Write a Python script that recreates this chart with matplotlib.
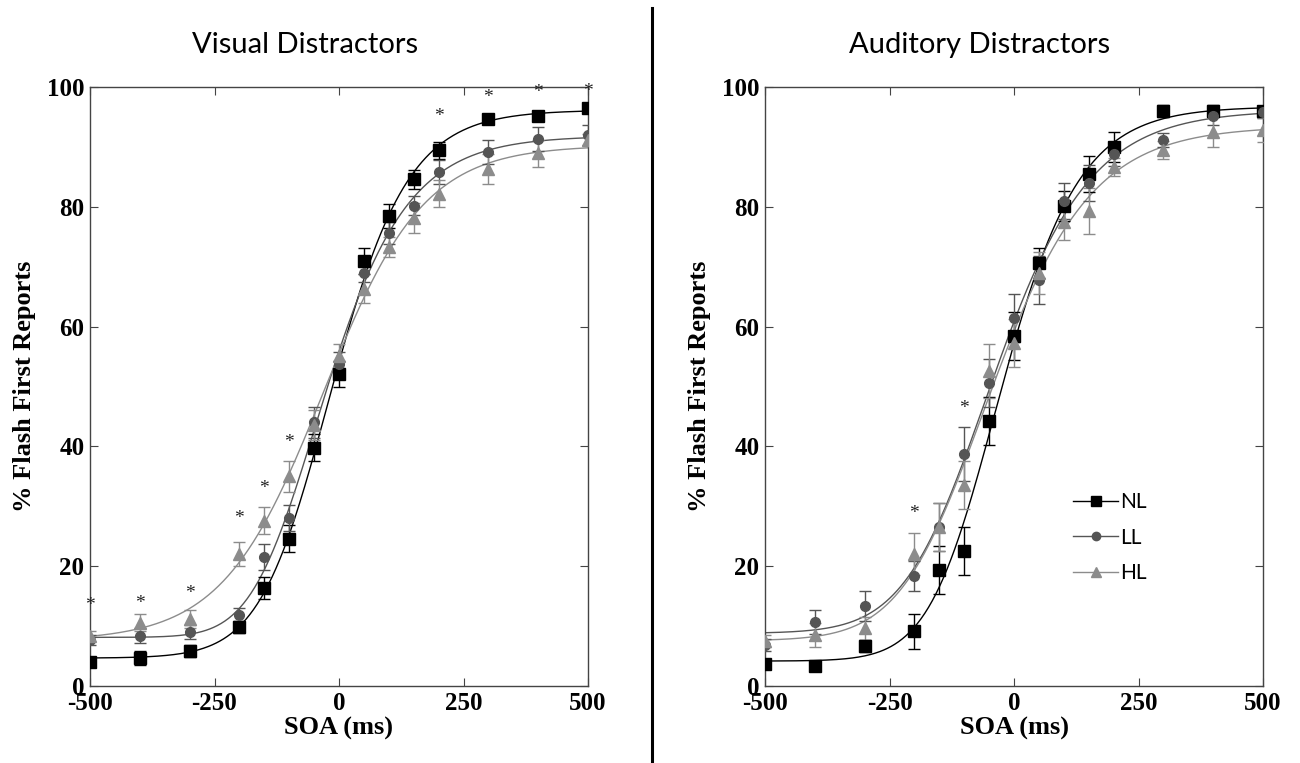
import matplotlib
matplotlib.use("Agg")
import matplotlib.pyplot as plt
import numpy as np

# SOA values (ms)
soa = [-500, -400, -300, -200, -150, -100, -50, 0, 50, 100, 150, 200, 300, 400, 500]

# Visual distractors: % flash first reports and SEM
vis_nl = [4.0, 4.7, 5.9, 9.9, 16.4, 24.6, 39.8, 52.1, 71.0, 78.5, 84.6, 89.4, 94.6, 95.2, 96.5]
vis_ll = [7.7, 8.4, 9.0, 11.9, 21.5, 28.1, 44.0, 53.8, 69.0, 75.6, 80.2, 85.8, 89.2, 91.3, 92.0]
vis_hl = [8.3, 10.6, 11.2, 22.1, 27.6, 35.0, 43.5, 55.1, 66.3, 73.3, 78.2, 82.2, 86.3, 88.9, 91.1]
vis_nl_err = [0.8, 1.2, 1.0, 1.0, 1.8, 2.2, 2.2, 2.2, 2.2, 2.0, 1.6, 1.4, 0.8, 0.8, 0.6]
vis_ll_err = [0.8, 1.2, 1.2, 1.2, 2.2, 2.2, 2.6, 2.0, 1.5, 1.8, 1.6, 2.0, 2.0, 2.0, 1.6]
vis_hl_err = [0.8, 1.5, 1.5, 2.0, 2.2, 2.6, 2.5, 2.0, 2.4, 1.7, 2.5, 2.2, 2.5, 2.2, 1.0]
vis_star_x = [-500, -400, -300, -200, -150, -100, 200, 300, 400, 500]
vis_star_y = [13.5, 13.7, 15.4, 28.0, 33.0, 40.7, 95.0, 98.2, 99.0, 99.3]

# Auditory distractors
aud_nl = [3.6, 3.4, 6.7, 9.1, 19.3, 22.5, 44.3, 58.4, 70.6, 80.1, 85.5, 90.0, 96.0, 96.0, 96.0]
aud_ll = [6.9, 10.7, 13.4, 18.3, 26.6, 38.7, 50.6, 61.4, 67.8, 81.0, 84.0, 88.8, 91.2, 95.2, 95.9]
aud_hl = [7.5, 8.5, 9.6, 22.1, 26.6, 33.6, 52.6, 57.2, 69.0, 77.4, 79.3, 86.7, 89.5, 92.5, 92.9]
aud_nl_err = [0.8, 0.8, 1.0, 3.0, 4.0, 4.0, 4.0, 4.0, 2.5, 2.5, 3.0, 2.5, 1.0, 1.0, 0.6]
aud_ll_err = [1.0, 2.0, 2.5, 2.5, 4.0, 4.5, 4.0, 4.0, 4.0, 3.0, 3.0, 2.0, 1.2, 1.5, 1.0]
aud_hl_err = [1.0, 2.0, 2.0, 3.5, 4.0, 4.0, 4.5, 4.0, 3.5, 3.0, 3.8, 1.5, 1.5, 2.5, 2.0]
aud_star_x = [-200, -100]
aud_star_y = [28.8, 46.4]

labels = ["NL", "LL", "HL"]
colors = ["#000000", "#555555", "#8c8c8c"]
markers = ["s", "o", "^"]
msizes = [8, 7, 8]


def shape(x, mu, s, nu):
    # generalised (asymmetric) logistic, 0..1
    return (1.0 + np.exp(-(x - mu) / s)) ** (-nu)


def fit_curve(x, y):
    # grid over mu / s / nu, closed-form least squares for the two asymptotes
    x = np.asarray(x, float)
    y = np.asarray(y, float)
    mu = np.arange(-200, 121, 3.0)[:, None, None, None]
    s = np.arange(20, 200, 3.0)[None, :, None, None]
    nu = np.array([1.0, 1.5, 2.0, 2.5, 3.0, 4.0])[None, None, :, None]
    g = shape(x[None, None, None, :], mu, s, nu)
    gm = g.mean(-1, keepdims=True)
    b = ((g - gm) * (y - y.mean())).sum(-1, keepdims=True) / ((g - gm) ** 2).sum(-1, keepdims=True)
    a = y.mean() - b * gm
    err = ((a + b * g - y) ** 2).sum(-1)
    i, j, k = np.unravel_index(np.argmin(err), err.shape)
    lo = a[i, j, k, 0]
    hi = lo + b[i, j, k, 0]
    return mu[i, 0, 0, 0], s[0, j, 0, 0], nu[0, 0, k, 0], lo, hi


plt.rcParams['font.family'] = ['Liberation Serif', 'DejaVu Serif']
plt.rcParams['axes.unicode_minus'] = False
W, H = 1300, 763
fig = plt.figure(figsize=(W / 100, H / 100), dpi=100)


def panel(left, series, errs, star_x, star_y, title, legend=False):
    ax = fig.add_axes([left / W, 1 - 686 / H, 498 / W, 599 / H])
    xx = np.linspace(-500, 500, 400)
    for i in range(3):
        mu, s, nu, lo, hi = fit_curve(soa, series[i])
        ax.plot(xx, lo + (hi - lo) * shape(xx, mu, s, nu), color=colors[i], lw=1.0, zorder=2)
        ax.errorbar(soa, series[i], yerr=errs[i], fmt=markers[i], color=colors[i],
                    ms=msizes[i], capsize=4, elinewidth=1, capthick=1, zorder=3)
        if legend:
            ax.plot([], [], color=colors[i], marker=markers[i], ms=msizes[i] - 1,
                    lw=1.0, label=labels[i])
    for sx, sy in zip(star_x, star_y):
        ax.text(sx, sy, "*", ha="center", va="center", fontsize=14, color="#222222")
    ax.set_xlim(-500, 500)
    ax.set_ylim(0, 100)
    ax.set_xticks([-500, -250, 0, 250, 500])
    ax.set_yticks([0, 20, 40, 60, 80, 100])
    ax.tick_params(direction="in", top=True, right=True, length=6, width=0.8,
                   color="#444444", labelsize=18, pad=4)
    for lab in ax.get_xticklabels() + ax.get_yticklabels():
        lab.set_fontweight("bold")
    for sp in ax.spines.values():
        sp.set_color("#444444")
        sp.set_linewidth(1.0)
    ax.set_xlabel("SOA (ms)", fontsize=19, fontweight="bold", labelpad=2)
    ax.set_ylabel("% Flash First Reports", fontsize=19, fontweight="bold", labelpad=8)
    fig.text((left + 215) / W, 1 - 45 / H, title, ha="center", va="center",
             fontsize=21, family=["Lato", "DejaVu Sans"])
    if legend:
        ax.legend(loc="upper left", bbox_to_anchor=(0.58, 0.355), frameon=False,
                  prop={"family": ["Lato", "DejaVu Sans"], "size": 15},
                  handlelength=2.2, handletextpad=0.1, labelspacing=0.75)
    return ax


panel(90, [vis_nl, vis_ll, vis_hl], [vis_nl_err, vis_ll_err, vis_hl_err],
      vis_star_x, vis_star_y, "Visual Distractors")
panel(765, [aud_nl, aud_ll, aud_hl], [aud_nl_err, aud_ll_err, aud_hl_err],
      aud_star_x, aud_star_y, "Auditory Distractors", legend=True)

# divider between the panels
fig.add_artist(plt.Line2D([652 / W, 652 / W], [0, 1 - 8 / H], color="black", lw=2.2))

fig.savefig("out.png", dpi=100)
